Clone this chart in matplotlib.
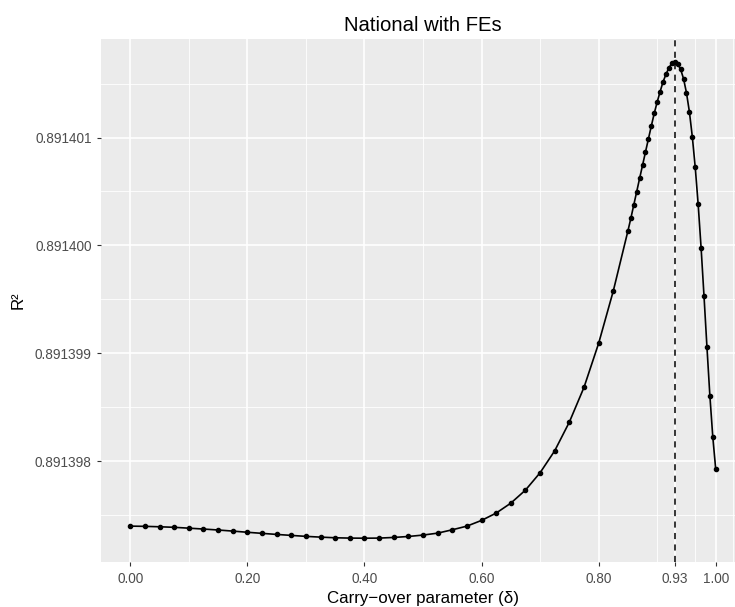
import matplotlib
matplotlib.use("Agg")
import matplotlib.pyplot as plt

# carry-over parameter (delta) and R^2
delta = [0.000, 0.025, 0.050, 0.075, 0.100, 0.125, 0.150, 0.175, 0.200, 0.225,
         0.250, 0.275, 0.300, 0.325, 0.350, 0.375, 0.400, 0.425, 0.450, 0.475,
         0.500, 0.525, 0.550, 0.575, 0.600, 0.625, 0.650, 0.675, 0.700, 0.725,
         0.750, 0.775, 0.800, 0.825, 0.850, 0.855, 0.860, 0.865, 0.870, 0.875,
         0.880, 0.885, 0.890, 0.895, 0.900, 0.905, 0.910, 0.915, 0.920, 0.925,
         0.930, 0.935, 0.940, 0.945, 0.950, 0.955, 0.960, 0.965, 0.970, 0.975,
         0.980, 0.985, 0.990, 0.995, 1.000]
r2 = [0.891397397, 0.891397395, 0.891397391, 0.891397386, 0.891397378,
      0.891397370, 0.891397361, 0.891397351, 0.891397340, 0.891397330,
      0.891397320, 0.891397311, 0.891397302, 0.891397295, 0.891397289,
      0.891397286, 0.891397285, 0.891397286, 0.891397292, 0.891397301,
      0.891397314, 0.891397332, 0.891397363, 0.891397397, 0.891397450,
      0.891397518, 0.891397610, 0.891397731, 0.891397892, 0.891398096,
      0.891398362, 0.891398684, 0.891399092, 0.891399577, 0.891400134,
      0.891400251, 0.891400375, 0.891400498, 0.891400622, 0.891400743,
      0.891400866, 0.891400987, 0.891401108, 0.891401225, 0.891401330,
      0.891401426, 0.891401516, 0.891401587, 0.891401646, 0.891401689,
      0.891401698, 0.891401683, 0.891401634, 0.891401546, 0.891401416,
      0.891401240, 0.891401008, 0.891400724, 0.891400381, 0.891399979,
      0.891399528, 0.891399058, 0.891398606, 0.891398223, 0.891397923]
best_delta = 0.93

x_breaks = [0.0, 0.2, 0.4, 0.6, 0.8, 0.93, 1.0]
x_labels = ["0.00", "0.20", "0.40", "0.60", "0.80", "0.93", "1.00"]
x_minor = [0.1, 0.3, 0.5, 0.7, 0.9, 0.965, 1.03]
y_breaks = [0.891398, 0.891399, 0.891400, 0.891401]
y_labels = ["0.891398", "0.891399", "0.891400", "0.891401"]
y_minor = [0.8913975, 0.8913985, 0.8913995, 0.8914005, 0.8914015]

plt.rcParams["font.family"] = ["Liberation Sans", "DejaVu Sans"]

fig = plt.figure(figsize=(7.35, 6.07), dpi=100)
# panel runs past the right edge, as in the original export
ax = fig.add_axes([101 / 735, 45 / 607, 644 / 735, 523.5 / 607])
ax.set_facecolor("#EBEBEB")
for s in ax.spines.values():
    s.set_visible(False)

# grid (ggplot style)
for v in x_minor:
    ax.axvline(v, color="white", lw=0.6, zorder=0)
for v in y_minor:
    ax.axhline(v, color="white", lw=0.6, zorder=0)
for v in x_breaks:
    ax.axvline(v, color="white", lw=1.2, zorder=0)
for v in y_breaks:
    ax.axhline(v, color="white", lw=1.2, zorder=0)

ax.plot(delta, r2, color="black", lw=1.2, marker="o", ms=3, zorder=3)
ax.axvline(best_delta, color="black", lw=1.1, dashes=(4, 3.5), zorder=2)

lo, hi = min(r2), max(r2)
pad = 0.05 * (hi - lo)
ax.set_ylim(lo - pad, hi + pad)
ax.set_xlim(-0.05, 1.05)

ax.set_xticks(x_breaks, x_labels)
ax.set_yticks(y_breaks, y_labels)
ax.tick_params(axis="both", colors="#333333", length=3, width=0.8,
               labelcolor="#4D4D4D", labelsize=9.8)
ax.tick_params(axis="x", pad=4.5)
ax.tick_params(axis="y", pad=3.6)

ax.set_xlabel("Carry\u2212over parameter (\u03b4)", fontsize=12.2, labelpad=3)
ax.set_ylabel("R\u00b2", fontsize=12.2, labelpad=7)
ax.set_title("National with FEs", fontsize=14.6, pad=5.5)

fig.savefig("out.png", dpi=100)
